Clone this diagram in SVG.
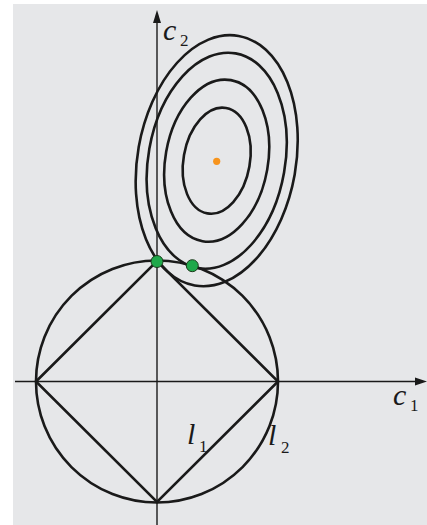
<svg xmlns="http://www.w3.org/2000/svg" width="427" height="525" viewBox="0 0 427 525">
<style>
.ax{stroke:#1a1a1a;stroke-width:1.4;fill:none}
.th{stroke:#1a1a1a;stroke-width:2.6;fill:none}
.gd{fill:#1fa84a;stroke:#1a3a1a;stroke-width:1}
text{font-family:'Liberation Serif',serif;fill:#1a1a1a}
.lb{font-style:italic;font-size:30px}
.sb{font-size:17px}
</style>
<rect x="13" y="4" width="414" height="521" fill="#e6e7e9"/>
<g id="axes">
<line class="ax" x1="15" y1="381.5" x2="420" y2="381.5"/>
<polygon points="427,381.5 415,377.5 415,385.5" fill="#1a1a1a"/>
<line class="ax" x1="157" y1="525" x2="157" y2="20"/>
<polygon points="157,10 153,23 161,23" fill="#1a1a1a"/>
</g>
<g id="circle-l2"><circle class="th" cx="157" cy="381.5" r="121"/></g>
<g id="diamond-l1"><polygon class="th" points="36,381.5 157,261 278,381.5 157,502"/></g>
<g id="contours" transform="translate(216.7,160.7) rotate(10)">
<ellipse class="th" cx="0" cy="0" rx="33.2" ry="53.5"/>
<ellipse class="th" cx="0" cy="0" rx="51.3" ry="81.8"/>
<ellipse class="th" cx="0" cy="0" rx="68.4" ry="109"/>
<ellipse class="th" cx="0" cy="0" rx="79.2" ry="126.7"/>
</g>
<g id="optimum"><circle cx="216.7" cy="161.3" r="3.6" fill="#f7941d"/></g>
<g id="solutions">
<circle class="gd" cx="157" cy="261.5" r="6"/>
<circle class="gd" cx="192.3" cy="265.7" r="6"/>
</g>
<g id="labels">
<text class="lb" x="163" y="40" font-family="Liberation Serif">c</text><text class="sb" x="180" y="46" font-family="Liberation Serif">2</text>
<text class="lb" x="393" y="405" font-family="Liberation Serif">c</text><text class="sb" x="410" y="411" font-family="Liberation Serif">1</text>
<text class="lb" x="187" y="444" font-family="Liberation Serif">l</text><text class="sb" x="199" y="452" font-family="Liberation Serif">1</text>
<text class="lb" x="268" y="445" font-family="Liberation Serif">l</text><text class="sb" x="281" y="453" font-family="Liberation Serif">2</text>
</g>
</svg>
